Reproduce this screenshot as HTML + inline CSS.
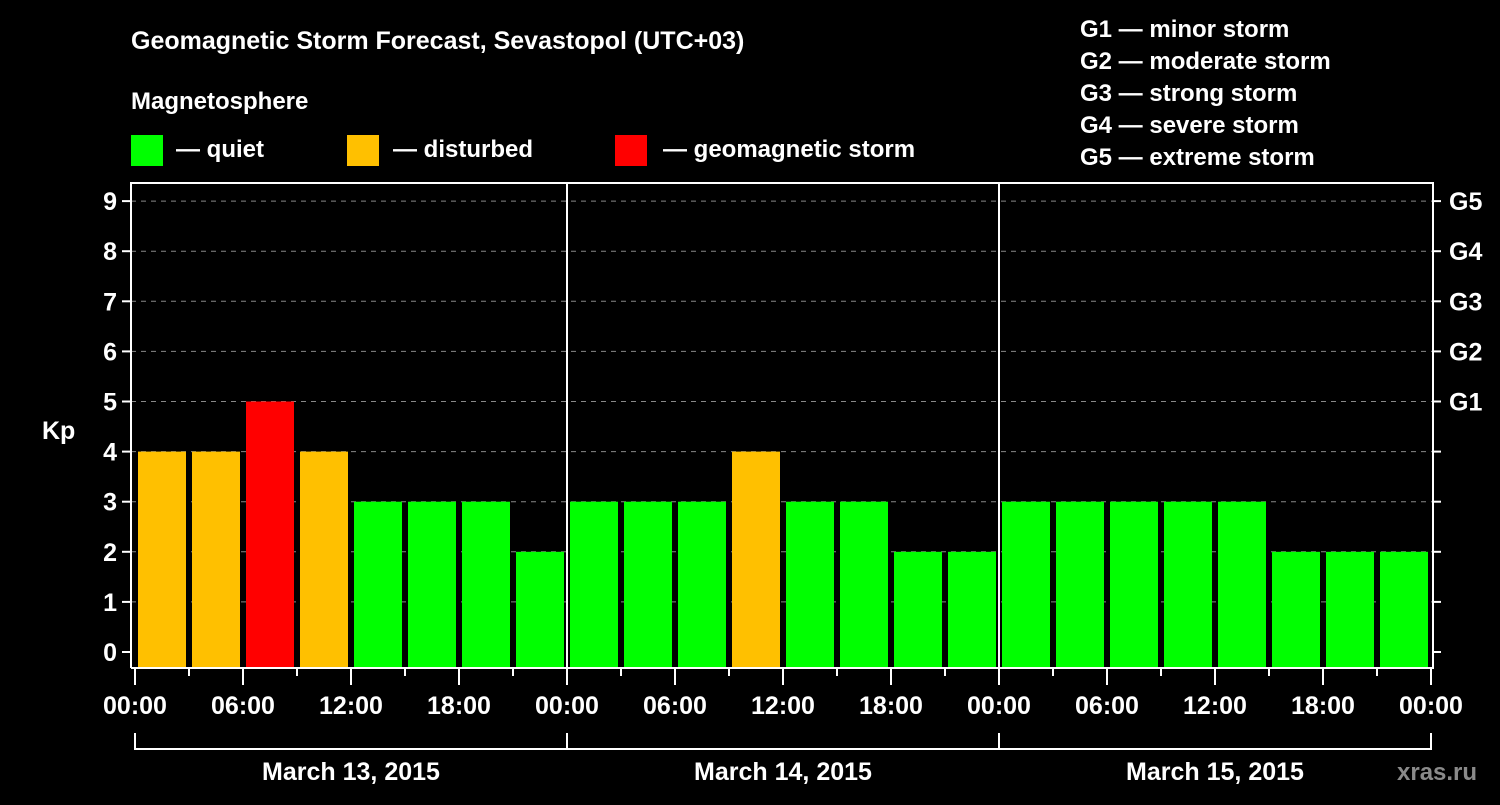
<!DOCTYPE html>
<html><head><meta charset="utf-8"><style>
body{margin:0;background:#000;width:1500px;height:800px;overflow:hidden}
svg text{font-family:"Liberation Sans",Arial,sans-serif;font-weight:bold;fill:#fff}
</style></head><body>
<svg width="1500" height="800" id="chart">
<text x="131" y="49" font-size="25">Geomagnetic Storm Forecast, Sevastopol (UTC+03)</text>
<text x="131" y="109" font-size="24">Magnetosphere</text>
<rect x="131" y="135" width="32" height="31" fill="#00ff00"/>
<text x="176" y="157" font-size="24">— quiet</text>
<rect x="347" y="135" width="32" height="31" fill="#ffc000"/>
<text x="393" y="157" font-size="24">— disturbed</text>
<rect x="615" y="135" width="32" height="31" fill="#ff0000"/>
<text x="663" y="157" font-size="24">— geomagnetic storm</text>
<g font-size="24">
<text x="1080" y="37">G1 — minor storm</text>
<text x="1080" y="69">G2 — moderate storm</text>
<text x="1080" y="101">G3 — strong storm</text>
<text x="1080" y="133">G4 — severe storm</text>
<text x="1080" y="165">G5 — extreme storm</text>
</g>
<text x="42" y="439" font-size="25">Kp</text>
<text x="1397" y="780" font-size="24" fill="#888" style="fill:#8a8a8a">xras.ru</text>
<g id="plot"></g>
</svg>
<script>
const kpValues=[4,4,5,4,3,3,3,2, 3,3,3,4,3,3,2,2, 3,3,3,3,3,2,2,2];
const yTicks=[0,1,2,3,4,5,6,7,8,9];
const gLabels=[[5,"G1"],[6,"G2"],[7,"G3"],[8,"G4"],[9,"G5"]];
const timeLabels=["00:00","06:00","12:00","18:00","00:00","06:00","12:00","18:00","00:00","06:00","12:00","18:00","00:00"];
const dateLabels=["March 13, 2015","March 14, 2015","March 15, 2015"];
const L=131,R=1433,T=183,B=668,X0=135,SLOT=54;
const y=v=>652-50.1*v;
const x=i=>X0+i*SLOT;
const NS="http://www.w3.org/2000/svg";
const g=document.getElementById('plot');
function mk(tag,a){const e=document.createElementNS(NS,tag);for(const k in a)e.setAttribute(k,a[k]);g.appendChild(e);return e;}
function col(v){return v>=5?"#ff0000":v>=4?"#ffc000":"#00ff00";}
yTicks.forEach(v=>{if(v>0){const l=mk('line',{x1:L,x2:R,y1:y(v),y2:y(v),stroke:'#888','stroke-dasharray':'5,5','stroke-width':1});

}
const t=mk('line',{x1:L-9,x2:L,y1:y(v),y2:y(v),stroke:'#fff','stroke-width':2});


const t2=mk('line',{x1:R,x2:R+8,y1:y(v),y2:y(v),stroke:'#fff','stroke-width':2});


const tx=mk('text',{x:L-14,y:y(v)+9,'font-size':25,'text-anchor':'end'});tx.textContent=v;

});
gLabels.forEach(([v,s])=>{const tx=mk('text',{x:R+16,y:y(v)+9,'font-size':25});tx.textContent=s;

});
kpValues.forEach((v,i)=>{const r=mk('rect',{x:x(i)+3,y:y(v),width:48,height:B-y(v),fill:col(v)});

});
[1,2].forEach(d=>{const l=mk('line',{x1:x(d*8),x2:x(d*8),y1:T,y2:B,stroke:'#fff','stroke-width':2});

});
const fr=mk('path',{d:`M${L} ${B}V${T}H${R}V${B}H${L}`,fill:'none',stroke:'#fff','stroke-width':2});


for(let i=0;i<=24;i++){const maj=i%2==0;const l=mk('line',{x1:x(i),x2:x(i),y1:B,y2:maj?B+17:B+8,stroke:'#fff','stroke-width':2});

}
timeLabels.forEach((s,i)=>{const t=mk('text',{x:x(i*2),y:714,'font-size':25,'text-anchor':'middle'});t.textContent=s;

});
const br=mk('path',{d:`M${x(0)} 733V749H${x(24)}V733M${x(8)} 733V749M${x(16)} 733V749`,fill:'none',stroke:'#fff','stroke-width':2});


dateLabels.forEach((s,i)=>{const t=mk('text',{x:x(i*8+4),y:780,'font-size':25,'text-anchor':'middle'});t.textContent=s;

});
</script>
</body></html>
